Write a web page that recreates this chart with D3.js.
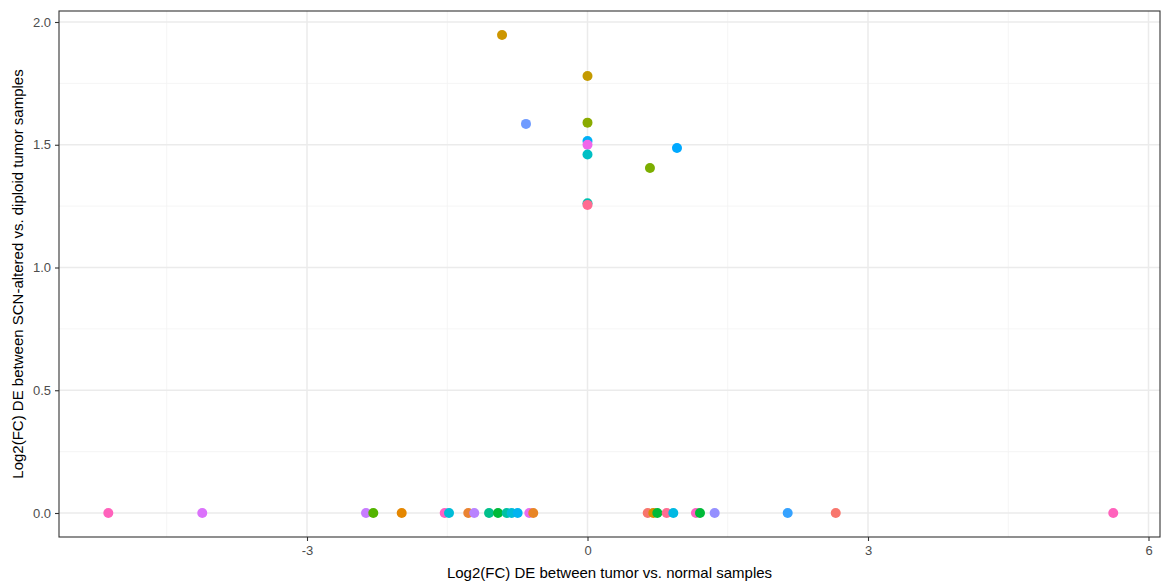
<!DOCTYPE html>
<html><head><meta charset="utf-8">
<script src="https://cdn.jsdelivr.net/npm/d3@7"></script>
<style>body{margin:0;background:#fff}svg{display:block}</style>
</head><body>
<script>
const xValues = [-0.914, 0, -0.658, 0, 0, 0, 0, 0, 0, 0.957, 0.668,
  -5.125, -4.12, -2.369, -2.291, -1.987, -1.527, -1.481, -1.275, -1.211, -1.053, -0.957, -0.864, -0.811, -0.747, -0.622, -0.580,
  0.644, 0.704, 0.747, 0.847, 0.918, 1.160, 1.203, 1.360, 2.141, 2.655, 5.623];
const yValues = [1.947, 1.78, 1.585, 1.59, 1.515, 1.50, 1.46, 1.262, 1.255, 1.487, 1.405,
  0,0,0,0,0,0,0,0,0,0,0,0,0,0,0,0,
  0,0,0,0,0,0,0,0,0,0,0];
const pointColors = ["#CD9600", "#C49A00", "#6F9BFF", "#8AAB00", "#00B0F6", "#F066EA", "#00BFC4", "#00BFB0", "#FF6C91", "#00A9FF", "#7CAE00",
  "#FF62BC", "#DB72FB", "#C77CFF", "#53B400", "#E58700", "#FF61C3", "#00BCD8", "#EA8331", "#B983FF", "#00C08B", "#00BA38", "#00C1A3", "#00BCD8", "#00B4F0", "#E76BF3", "#E88526",
  "#F8766D", "#D89000", "#00BA38", "#FF6C91", "#00B9E3", "#FF61C3", "#00BA38", "#9590FF", "#35A2FF", "#F8766D", "#FF62BC"];
const xTicks = [-3, 0, 3, 6];
const xMinor = [-4.5, -1.5, 1.5, 4.5];
const yTicks = [0, 0.5, 1.0, 1.5, 2.0];
const yMinor = [0.25, 0.75, 1.25, 1.75];
const xTitle = "Log2(FC) DE between tumor vs. normal samples";
const yTitle = "Log2(FC) DE between SCN-altered vs. diploid tumor samples";

const W = 1162, H = 585;
const L = 59, R = 1160, T = 11, B = 537;
const svg = d3.select("body").append("svg").attr("width", W).attr("height", H)
  .style("font-family", "'Liberation Sans', Arial, sans-serif");
const x = d3.scaleLinear().domain([(L-587.5)/93.5, (R-587.5)/93.5]).range([L, R]);
const y = d3.scaleLinear().domain([(513-B)/245.5, (513-T)/245.5]).range([B, T]);

const g = svg.append("g");
g.selectAll(".xmin").data(xMinor).join("line").attr("x1", d=>x(d)).attr("x2", d=>x(d)).attr("y1", T).attr("y2", B).attr("stroke", "#F2F2F2").attr("stroke-width", 0.8);
g.selectAll(".ymin").data(yMinor).join("line").attr("y1", d=>y(d)).attr("y2", d=>y(d)).attr("x1", L).attr("x2", R).attr("stroke", "#F2F2F2").attr("stroke-width", 0.8);
g.selectAll(".xmaj").data(xTicks).join("line").attr("x1", d=>x(d)).attr("x2", d=>x(d)).attr("y1", T).attr("y2", B).attr("stroke", "#EBEBEB").attr("stroke-width", 1.5);
g.selectAll(".ymaj").data(yTicks).join("line").attr("y1", d=>y(d)).attr("y2", d=>y(d)).attr("x1", L).attr("x2", R).attr("stroke", "#EBEBEB").attr("stroke-width", 1.5);

const pts = xValues.map((v,i)=>({x:v, y:yValues[i], c:pointColors[i]}));
g.selectAll("circle").data(pts).join("circle")
  .attr("cx", d=>x(d.x)).attr("cy", d=>y(d.y)).attr("r", 5).attr("fill", d=>d.c);

g.append("rect").attr("x", L).attr("y", T).attr("width", R-L).attr("height", B-T)
  .attr("fill", "none").attr("stroke", "#333333").attr("stroke-width", 1.1);

const xa = svg.append("g").attr("transform", `translate(0,${B})`)
  .call(d3.axisBottom(x).tickValues(xTicks).tickFormat(d => String(d)).tickSize(4).tickPadding(5));
const ya = svg.append("g").attr("transform", `translate(${L},0)`)
  .call(d3.axisLeft(y).tickValues(yTicks).tickFormat(d => d.toFixed(1)).tickSize(4).tickPadding(4));
[xa, ya].forEach(a => {
  a.select(".domain").remove();
  a.selectAll(".tick line").attr("stroke", "#333333").attr("stroke-width", 1.1);
  a.selectAll(".tick text").attr("fill", "#4D4D4D").style("font-size", "13px").style("font-family", "'Liberation Sans', Arial, sans-serif");
});

svg.append("text").attr("x", (L+R)/2).attr("y", 578).attr("text-anchor", "middle")
  .attr("font-size", "15px").attr("fill", "#000").text(xTitle);
svg.append("text").attr("transform", `translate(23,${(T+B)/2}) rotate(-90)`).attr("text-anchor", "middle")
  .attr("font-size", "15px").attr("fill", "#000").text(yTitle);
</script>
</body></html>
